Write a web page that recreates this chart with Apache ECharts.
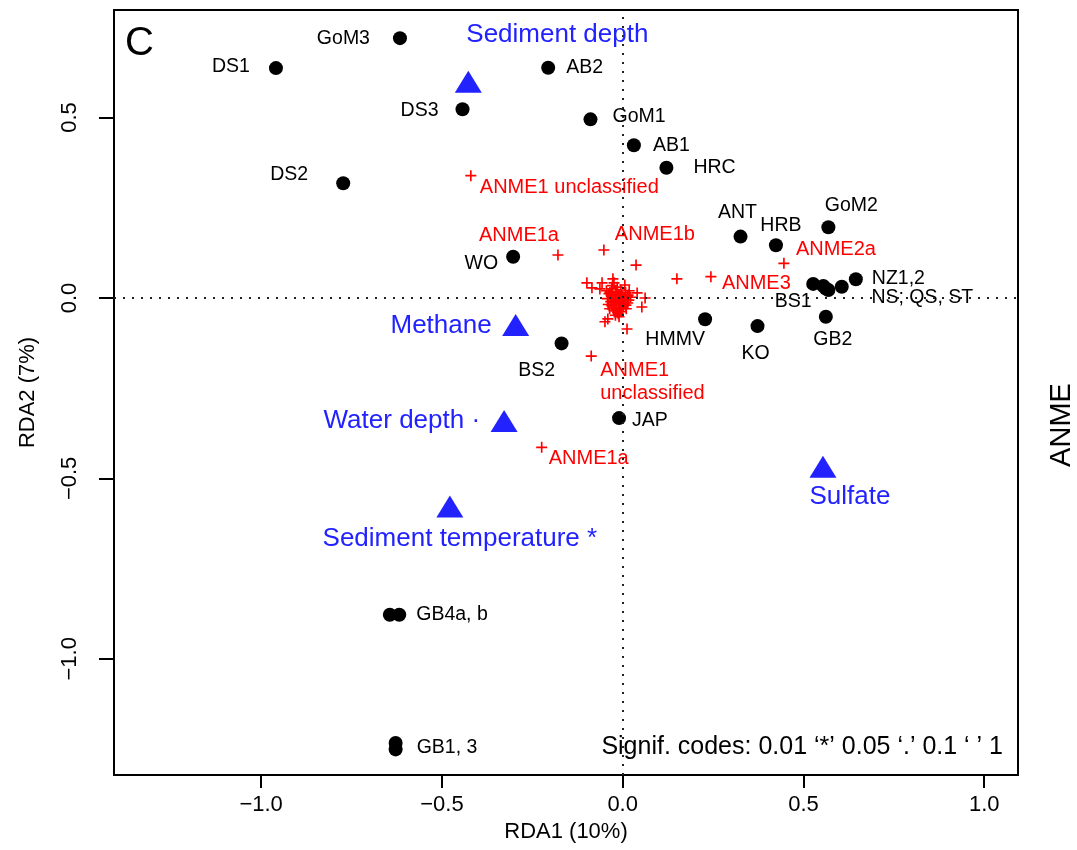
<!DOCTYPE html>
<html>
<head>
<meta charset="utf-8">
<title>RDA ANME</title>
<script src="https://cdn.jsdelivr.net/npm/echarts@6/dist/echarts.min.js"></script>
<style>
  html, body { margin: 0; padding: 0; background: #fff; }
  #chart { width: 1077px; height: 850px; }
</style>
</head>
<body>
<div id="chart"></div>
<script>
// ---- Site scores (RDA1, RDA2) ----
const siteNames = ['DS1', 'GoM3', 'AB2', 'DS3', 'GoM1', 'AB1', 'HRC', 'DS2', 'GoM2', 'ANT', 'HRB', 'WO',
  'BS1', 'NS', 'ST', 'QS', 'NZ1', 'NZ2', 'HMMV', 'KO', 'GB2', 'BS2', 'JAP', 'GB4a', 'GB4b', 'GB1', 'GB3'];
const siteX = [-0.959, -0.616, -0.206, -0.443, -0.089, 0.031, 0.121, -0.773, 0.569, 0.326, 0.424, -0.303,
  0.527, 0.555, 0.562, 0.569, 0.606, 0.645, 0.228, 0.373, 0.562, -0.169, -0.010, -0.644, -0.618, -0.628, -0.628];
const siteY = [0.637, 0.720, 0.638, 0.523, 0.495, 0.423, 0.361, 0.318, 0.196, 0.170, 0.146, 0.114,
  0.039, 0.033, 0.026, 0.022, 0.031, 0.052, -0.059, -0.078, -0.052, -0.126, -0.333, -0.878, -0.878, -1.233, -1.251];
// sites that share one printed label carry it on a single point
const siteLabelText = {
  DS1: 'DS1', GoM3: 'GoM3', AB2: 'AB2', DS3: 'DS3', GoM1: 'GoM1', AB1: 'AB1', HRC: 'HRC', DS2: 'DS2',
  GoM2: 'GoM2', ANT: 'ANT', HRB: 'HRB', WO: 'WO', BS1: 'BS1', NZ2: 'NZ1,2', QS: 'NS; QS, ST',
  HMMV: 'HMMV', KO: 'KO', GB2: 'GB2', BS2: 'BS2', JAP: 'JAP', GB4b: 'GB4a, b', GB3: 'GB1, 3'
};

// ---- ANME taxa scores ----
const taxaNames = ['ANME1 unclassified', 'ANME1a', 'ANME1b', 'ANME2a', 'ANME3', 'ANME1\nunclassified', 'ANME1a'];
const taxaX = [-0.420, -0.179, -0.052, 0.446, 0.244, -0.087, -0.224];
const taxaY = [0.339, 0.119, 0.133, 0.096, 0.059, -0.161, -0.414];
// unlabeled taxa (mostly crowded around the origin)
const otherTaxaX = [-0.099, -0.085, -0.057, -0.063, -0.027, -0.024, 0.006, 0.040, 0.062, 0.053, -0.041, -0.049, 0.012, 0.037, 0.150,
  -0.045, -0.038, -0.030, -0.025, -0.020, -0.015, -0.010, -0.005, 0.000, 0.008, 0.015, 0.022, -0.042, -0.033, -0.022, -0.012,
  -0.004, 0.006, 0.014, -0.030, -0.018, -0.008, 0.002, -0.024, -0.014, -0.004, -0.020, -0.010, -0.036, 0.010, -0.028, 0.018,
  -0.035, -0.027, -0.019, -0.011, -0.003, 0.005, 0.013, -0.040, -0.031, -0.023, -0.015, -0.007, 0.001, 0.009, 0.017,
  -0.026, -0.016, -0.006, 0.004, -0.012, -0.002];
const otherTaxaY = [0.042, 0.028, 0.042, 0.025, 0.053, 0.042, 0.036, 0.014, 0.000, -0.025, -0.058, -0.066, -0.086, 0.091, 0.053,
  0.020, 0.012, 0.025, 0.005, 0.018, 0.030, 0.010, 0.022, 0.004, 0.015, 0.008, 0.002, -0.002, -0.010, -0.006, -0.002,
  -0.012, -0.006, -0.014, -0.022, -0.020, -0.028, -0.022, -0.035, -0.040, -0.038, -0.048, -0.052, -0.030, -0.030, 0.034, 0.020,
  0.016, 0.000, 0.008, -0.016, 0.010, 0.000, 0.004, -0.018, 0.004, -0.012, 0.014, -0.008, -0.004, -0.020, -0.006,
  -0.028, -0.032, -0.020, -0.014, -0.044, -0.030];

// ---- Environmental variables (centroids) ----
const envNames = ['Sediment depth', 'Methane', 'Water depth', 'Sediment temperature', 'Sulfate'];
const envSignif = ['', '', '·', '*', ''];
const envX = [-0.427, -0.296, -0.328, -0.478, 0.554];
const envY = [0.599, -0.075, -0.341, -0.578, -0.468];

// ---- Axis ticks ----
const xTicks = [-1.0, -0.5, 0.0, 0.5, 1.0];
const yTicks = [-1.0, -0.5, 0.0, 0.5];

// label anchor: [text alignment, dx, dy] in pixels from the mark centre
const siteLabelPlace = {
  DS1: ['right', -26, -1], GoM3: ['right', -30, 0], AB2: ['left', 18, 0], DS3: ['right', -24, 1],
  GoM1: ['left', 22, -3], AB1: ['left', 19, 0], HRC: ['left', 27, 0], DS2: ['right', -35, -9],
  GoM2: ['center', 23, -22], ANT: ['center', -3, -24], HRB: ['center', 5, -20], WO: ['right', -15, 7],
  BS1: ['center', -20, 18], NZ2: ['left', 16, -1], QS: ['left', 43, 8], HMMV: ['center', -30, 20],
  KO: ['center', -2, 28], GB2: ['center', 7, 23], BS2: ['center', -25, 27], JAP: ['left', 13, 3],
  GB4b: ['left', 17, 0], GB3: ['left', 21, -2]
};
const taxaLabelPlace = [
  ['left', 9, 12], ['center', -39, -20], ['left', 11, -15], ['left', 12, -14],
  ['left', 11, 7], ['left', 9, 26], ['left', 7, 11]
];
const envLabelPlace = [
  ['left', -2, -47], ['right', -24, 1], ['right', -24, 0], ['center', 10, 32], ['center', 27, 30]
];

const FONT = '"Liberation Sans", Arial, Helvetica, sans-serif';
const RED = '#ff0000';
const BLUE = '#2222ff';
const CROSS = 'path://M4.25,0H5.75V4.25H10V5.75H5.75V10H4.25V5.75H0V4.25H4.25Z';

function placedLabel(text, place, color, size) {
  return {
    show: true,
    formatter: text,
    position: 'inside',
    align: place[0],
    verticalAlign: 'middle',
    offset: [place[1], place[2]],
    color: color,
    fontSize: size,
    fontFamily: FONT,
    lineHeight: Math.round(size * 1.13)
  };
}

const siteData = siteNames.map((n, i) => {
  const item = { name: n, value: [siteX[i], siteY[i]] };
  if (siteLabelText[n]) item.label = placedLabel(siteLabelText[n], siteLabelPlace[n], '#000', 19.5);
  return item;
});

const taxaData = taxaNames.map((n, i) => ({
  name: n, value: [taxaX[i], taxaY[i]],
  label: placedLabel(n, taxaLabelPlace[i], RED, 20)
})).concat(otherTaxaX.map((x, i) => ({ name: '', value: [x, otherTaxaY[i]] })));

const envData = envNames.map((n, i) => ({
  name: n, value: [envX[i], envY[i]],
  label: placedLabel(envSignif[i] ? n + ' ' + envSignif[i] : n, envLabelPlace[i], BLUE, 26)
}));

const tickFmt = v => (v < 0 ? '\u2212' : '') + Math.abs(v).toFixed(1);

const chart = echarts.init(document.getElementById('chart'), null, { renderer: 'canvas' });
chart.setOption({
  animation: false,
  backgroundColor: '#fff',
  textStyle: { fontFamily: FONT },
  grid: {
    left: 114, top: 10, width: 904, height: 765,
    show: true, borderColor: '#000', borderWidth: 2, backgroundColor: 'transparent',
    outerBoundsMode: 'none'
  },
  xAxis: {
    type: 'value', min: -1.407, max: 1.0935,
    name: 'RDA1 (10%)', nameLocation: 'middle', nameGap: 45,
    nameTextStyle: { color: '#000', fontSize: 22, fontFamily: FONT },
    splitLine: { show: false },
    axisLine: { show: false, onZero: false },
    axisTick: { show: true, inside: false, length: 13, customValues: xTicks, lineStyle: { color: '#000', width: 2 } },
    axisLabel: { show: true, customValues: xTicks, formatter: tickFmt, margin: 19, color: '#000', fontSize: 22, fontFamily: FONT }
  },
  yAxis: {
    type: 'value', min: -1.322, max: 0.798,
    name: 'RDA2 (7%)', nameLocation: 'middle', nameGap: 75, nameRotate: 90,
    nameTextStyle: { color: '#000', fontSize: 22, fontFamily: FONT },
    splitLine: { show: false },
    axisLine: { show: false, onZero: false },
    axisTick: { show: true, inside: false, length: 15, customValues: yTicks, lineStyle: { color: '#000', width: 2 } },
    axisLabel: { show: true, customValues: yTicks, formatter: tickFmt, rotate: 90, margin: 33, color: '#000', fontSize: 22, fontFamily: FONT }
  },
  graphic: [
    { type: 'text', left: 125, top: 24, style: { text: 'C', fill: '#000', font: '40px ' + FONT } },
    { type: 'text', x: 1003, y: 747, style: { text: 'Signif. codes: 0.01 \u2018*\u2019 0.05 \u2018.\u2019 0.1 \u2018 \u2019 1', fill: '#000', font: '25px ' + FONT, align: 'right', verticalAlign: 'middle' } },
    { type: 'text', x: 1062, y: 425, rotation: Math.PI / 2, style: { text: 'ANME', fill: '#000', font: '29px ' + FONT, align: 'center', verticalAlign: 'middle' } }
  ],
  series: [
    {
      type: 'scatter', name: 'zero', data: [], silent: true, z: 1,
      markLine: {
        silent: true, symbol: ['none', 'none'], label: { show: false }, animation: false,
        lineStyle: { color: '#222', type: [2, 7], width: 2 },
        emphasis: { disabled: true },
        data: [{ xAxis: 0 }, { yAxis: 0 }]
      }
    },
    {
      type: 'scatter', name: 'ANME', data: taxaData, symbol: CROSS, symbolSize: 11, silent: true, z: 3,
      itemStyle: { color: RED, opacity: 1 }, label: { show: false }
    },
    {
      type: 'scatter', name: 'Sites', data: siteData, symbol: 'circle', symbolSize: 14, silent: true, z: 4,
      itemStyle: { color: '#000', opacity: 1 }, label: { show: false }
    },
    {
      type: 'scatter', name: 'Environment', data: envData, symbol: 'triangle', symbolSize: [27, 22], silent: true, z: 5,
      itemStyle: { color: BLUE, opacity: 1 }, label: { show: false }
    }
  ]
});
</script>
</body>
</html>
